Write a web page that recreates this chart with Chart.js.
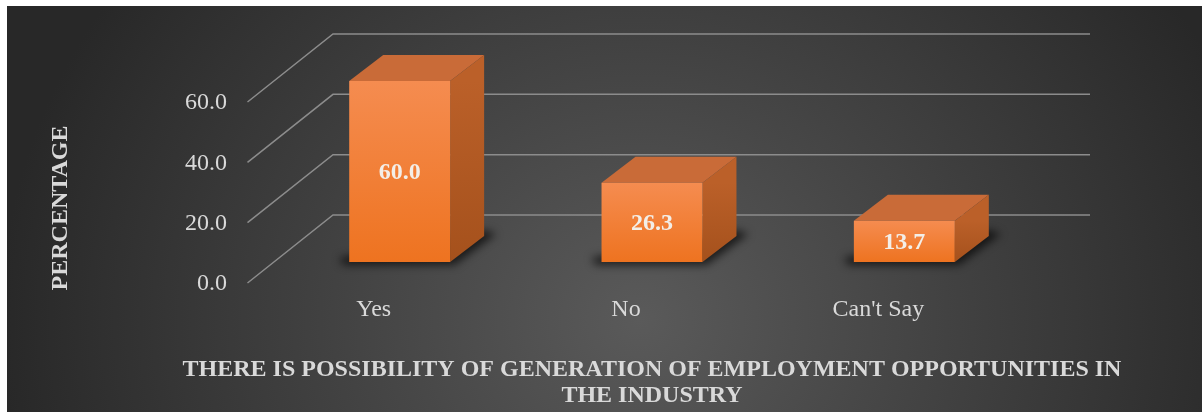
<!DOCTYPE html>
<html lang="en">

<head>
    <meta charset="UTF-8">
    <title>Employment opportunities</title>
    <script src="https://cdn.jsdelivr.net/npm/chart.js"></script>
    <style>
        body {
            margin: 0;
            background-color: #ffffff;
        }

        .grafico_in {
            width: 1202px;
            height: 412px;
        }
    </style>
</head>

<body>

    <div class="grafico_in">
        <canvas id="myChartCanvas" width="1202" height="412"></canvas>
    </div>

</body>

</html>

<script>

    var categorias = ['Yes', 'No', "Can't Say"];
    var valores = [60.0, 26.3, 13.7];
    var marcas = [0, 20, 40, 60];
    var tituloY = 'PERCENTAGE';
    var tituloX = ['THERE IS POSSIBILITY OF GENERATION OF EMPLOYMENT OPPORTUNITIES IN', 'THE INDUSTRY'];

    var fonte = "'Liberation Serif', 'Times New Roman', serif";

    // depth of the bars and of the back wall
    var prof = { dx: 34, dy: -26 };
    var parede = { dx: 59.5, dy: -47 };
    var frente = { dx: -26, dy: 21 };

    const fundo3d = {
        id: 'fundo3d',
        beforeDraw(chart) {
            const ctx = chart.ctx;
            ctx.save();
            ctx.fillStyle = '#ffffff';
            ctx.fillRect(0, 0, chart.width, chart.height);
            ctx.translate(640, 320);
            ctx.scale(1, 0.9);
            const g = ctx.createRadialGradient(0, 0, 0, 0, 0, 640);
            g.addColorStop(0, '#5a5a5a');
            g.addColorStop(1, '#282828');
            ctx.fillStyle = g;
            ctx.fillRect(7 - 640, (6 - 320) / 0.9, chart.width, chart.height / 0.9 + 10);
            ctx.restore();
        },
        beforeDatasetsDraw(chart) {
            const ctx = chart.ctx;
            const area = chart.chartArea;
            const y = chart.scales.y;

            // grid lines: floor diagonal + back wall
            ctx.save();
            ctx.strokeStyle = '#8c8c8c';
            ctx.lineWidth = 1.5;
            y.ticks.forEach(function (t) {
                const py = y.getPixelForValue(t.value);
                ctx.beginPath();
                ctx.moveTo(area.left + frente.dx, py + frente.dy);
                ctx.lineTo(area.left + parede.dx, py + parede.dy);
                ctx.lineTo(area.right + parede.dx, py + parede.dy);
                ctx.stroke();
            });
            ctx.restore();

            const meta = chart.getDatasetMeta(0);
            meta.data.forEach(function (bar) {
                const l = bar.x - bar.width / 2;
                const r = bar.x + bar.width / 2;
                const top = bar.y;
                const base = bar.base;

                // shadow
                ctx.save();
                ctx.filter = 'blur(4px)';
                ctx.fillStyle = 'rgba(0,0,0,0.65)';
                ctx.beginPath();
                ctx.moveTo(l - 10, base - 4);
                ctx.lineTo(l - 6, base + 3);
                ctx.lineTo(r + 4, base + 3);
                ctx.lineTo(r + prof.dx + 12, base + prof.dy - 2);
                ctx.lineTo(r + prof.dx, base + prof.dy - 6);
                ctx.closePath();
                ctx.fill();
                ctx.restore();

                // top face
                ctx.save();
                ctx.fillStyle = '#c96b38';
                ctx.beginPath();
                ctx.moveTo(l, top);
                ctx.lineTo(r, top);
                ctx.lineTo(r + prof.dx, top + prof.dy);
                ctx.lineTo(l + prof.dx, top + prof.dy);
                ctx.closePath();
                ctx.fill();

                // side face
                const gs = ctx.createLinearGradient(0, top, 0, base);
                gs.addColorStop(0, '#bb6029');
                gs.addColorStop(1, '#a5511c');
                ctx.fillStyle = gs;
                ctx.beginPath();
                ctx.moveTo(r, top);
                ctx.lineTo(r + prof.dx, top + prof.dy);
                ctx.lineTo(r + prof.dx, base + prof.dy);
                ctx.lineTo(r, base);
                ctx.closePath();
                ctx.fill();
                ctx.restore();
            });
        },
        afterDatasetsDraw(chart) {
            const ctx = chart.ctx;
            const meta = chart.getDatasetMeta(0);
            ctx.save();
            ctx.font = 'bold 24px ' + fonte;
            ctx.fillStyle = '#f3eee8';
            ctx.textAlign = 'center';
            ctx.textBaseline = 'middle';
            meta.data.forEach(function (bar, i) {
                ctx.fillText(valores[i].toFixed(1), bar.x, (bar.y + bar.base) / 2 + 1);
            });
            ctx.restore();
        },
        afterDraw(chart) {
            const ctx = chart.ctx;
            const area = chart.chartArea;
            ctx.save();
            ctx.font = 'bold 24px ' + fonte;
            ctx.fillStyle = '#d9d9d9';
            ctx.textAlign = 'center';
            ctx.textBaseline = 'middle';

            ctx.save();
            ctx.translate(61, 208);
            ctx.rotate(-Math.PI / 2);
            ctx.fillText(tituloY, 0, 0);
            ctx.restore();

            const cx = (area.left + area.right) / 2;
            ctx.fillText(tituloX[0], cx, 370, 941);
            ctx.fillText(tituloX[1], cx, 396, 941);
            ctx.restore();
        }
    };

    function corFrente(c) {
        const chart = c.chart;
        if (!chart.chartArea) {
            return '#f07a30';
        }
        const ys = chart.scales.y;
        const topo = ys.getPixelForValue(c.raw);
        const base = ys.getPixelForValue(0);
        const g = chart.ctx.createLinearGradient(0, topo, 0, base);
        g.addColorStop(0, '#f58c50');
        g.addColorStop(1, '#ee7320');
        return g;
    }

    let dados = {
        labels: categorias,
        datasets: [{
            label: '',
            data: valores,
            backgroundColor: corFrente,
            borderWidth: 0,
            categoryPercentage: 1,
            barPercentage: 0.4
        }]
    };

    const config = {
        type: 'bar',
        data: dados,
        options: {
            responsive: false,
            animation: false,
            layout: {
                padding: { top: 81, right: 171.5, bottom: 0, left: 0 }
            },
            plugins: {
                legend: { display: false },
                tooltip: { enabled: false }
            },
            scales: {
                x: {
                    grid: { display: false, drawTicks: false },
                    border: { display: false },
                    ticks: {
                        color: '#d9d9d9',
                        font: { family: fonte, size: 24 },
                        padding: 33,
                        labelOffset: frente.dx,
                        maxRotation: 0
                    },
                    afterFit(scale) {
                        scale.height = 150;
                    }
                },
                y: {
                    min: 0,
                    max: 60,
                    grid: { display: false, drawTicks: false },
                    border: { display: false },
                    afterBuildTicks(scale) {
                        scale.ticks = marcas.map(function (v) { return { value: v }; });
                    },
                    ticks: {
                        color: '#d9d9d9',
                        font: { family: fonte, size: 24 },
                        padding: 46.5,
                        labelOffset: frente.dy + 1,
                        callback: function (value) {
                            return Number(value).toFixed(1);
                        }
                    },
                    afterFit(scale) {
                        scale.width = 273.5;
                    }
                }
            }
        },
        plugins: [fundo3d]
    };

    let myChart = new Chart(
        document.getElementById('myChartCanvas'),
        config
    );

</script>
